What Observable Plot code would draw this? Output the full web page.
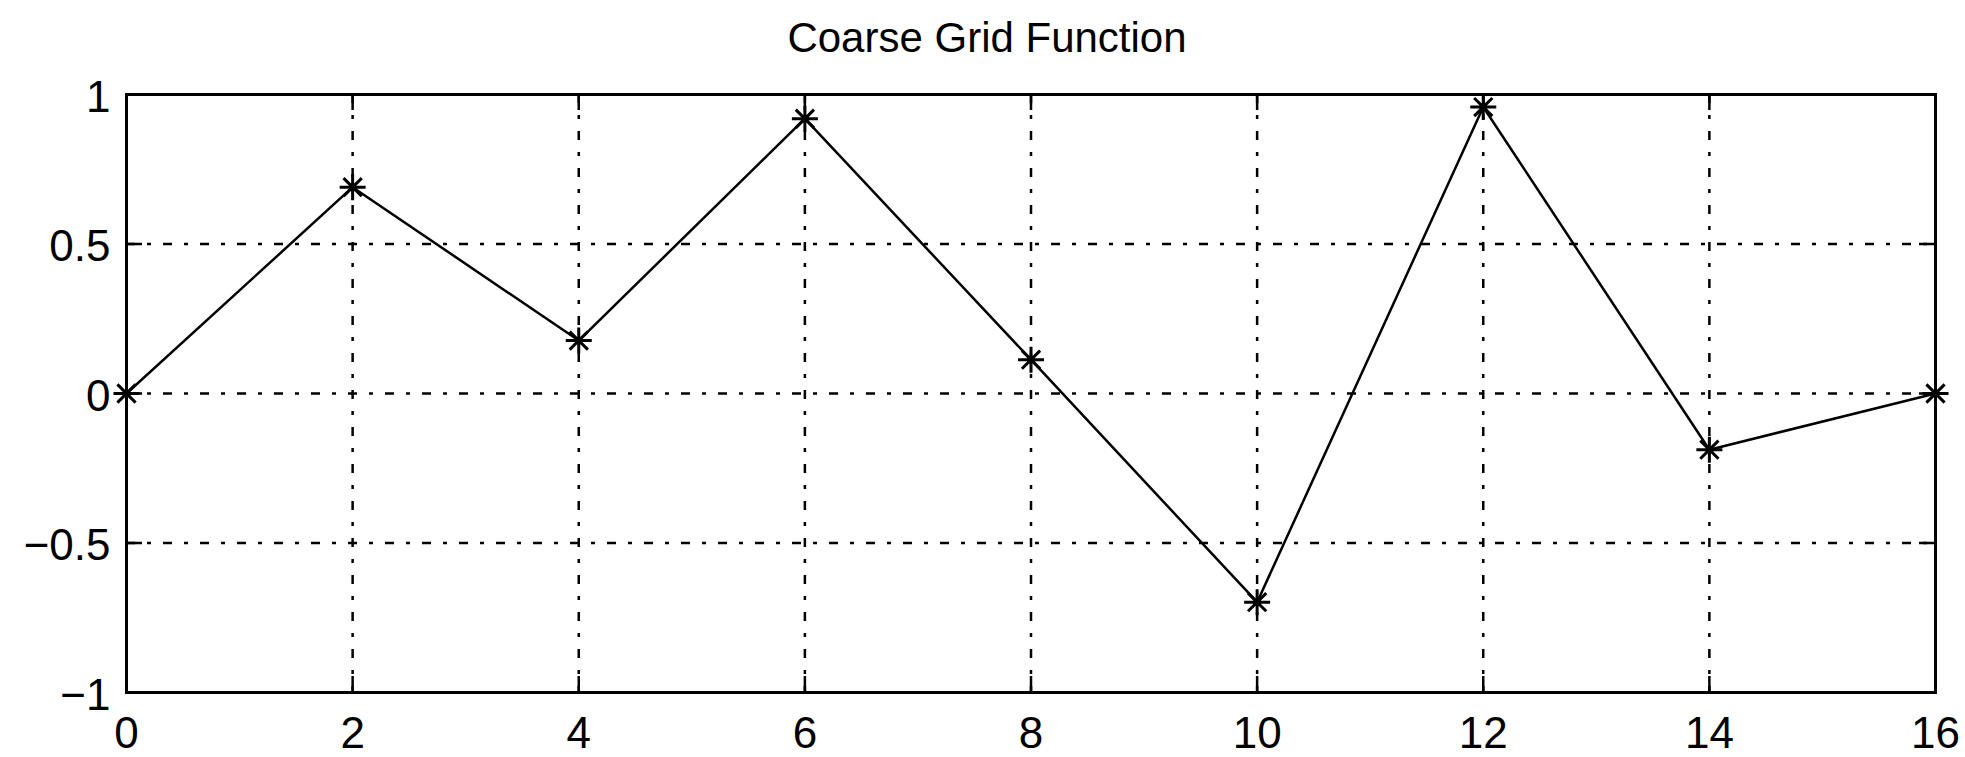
<!DOCTYPE html>
<html>
<head>
<meta charset="utf-8">
<script src="https://cdn.jsdelivr.net/npm/d3@7"></script>
<script src="https://cdn.jsdelivr.net/npm/@observablehq/plot@0.6"></script>
<style>
  html, body { margin: 0; padding: 0; background: #fff; }
  #wrap { position: relative; width: 1965px; height: 757px; font-family: "Liberation Sans", Arial, Helvetica, sans-serif; }
  #title { position: absolute; left: 987px; top: 17px; transform: translateX(-50%); font-size: 42px; line-height: 42px; color: #000; white-space: nowrap; }
  #chart { position: absolute; left: 0; top: 70px; }
</style>
</head>
<body>
<div id="wrap">
  <div id="title">Coarse Grid Function</div>
  <div id="chart"></div>
</div>
<script>
// Sample points of the coarse grid function
const xs = [0, 2, 4, 6, 8, 10, 12, 14, 16];
const ys = [0, 0.69, 0.177, 0.919, 0.113, -0.698, 0.958, -0.188, 0];

// Axis ticks and their labels
const xTicks = [0, 2, 4, 6, 8, 10, 12, 14, 16];
const xTickLabels = ["0", "2", "4", "6", "8", "10", "12", "14", "16"];
const yTicks = [-1, -0.5, 0, 0.5, 1];
const yTickLabels = ["\u22121", "\u22120.5", "0", "0.5", "1"];

const points = xs.map((x, i) => ({x, y: ys[i]}));

const W = 1965, H = 687;
const mTop = 24, mBottom = 65, mLeft = 126, mRight = 30;
const innerW = W - mLeft - mRight, innerH = H - mTop - mBottom;
const tickLen = 16;
const gridX = xTicks.slice(1, -1);
const gridY = yTicks.slice(1, -1);
const dash = "9,12,4,12";

// Eight-armed asterisk marker: a plus with a smaller x over it
const asterisk = {
  draw(ctx, size) {
    const r = Math.sqrt(size / Math.PI);
    const d = r * 0.7;
    ctx.moveTo(-r, 0); ctx.lineTo(r, 0);
    ctx.moveTo(0, -r); ctx.lineTo(0, r);
    ctx.moveTo(-d, -d); ctx.lineTo(d, d);
    ctx.moveTo(-d, d); ctx.lineTo(d, -d);
  }
};

const chart = Plot.plot({
  width: W,
  height: H,
  marginTop: mTop,
  marginBottom: mBottom,
  marginLeft: mLeft,
  marginRight: mRight,
  style: {fontFamily: '"Liberation Sans", Arial, Helvetica, sans-serif', color: "#000", background: "#fff"},
  x: {domain: [0, 16]},
  y: {domain: [-1, 1]},
  marks: [
    // dash-dot grid
    Plot.ruleX(gridX, {x: d => d, stroke: "#000", strokeWidth: 2.5, strokeDasharray: dash}),
    Plot.ruleY(gridY, {y: d => d, stroke: "#000", strokeWidth: 2.5, strokeDasharray: dash}),
    // inward tick marks on all four sides
    Plot.ruleX(xTicks, {x: d => d, stroke: "#000", strokeWidth: 2.5, insetBottom: innerH - tickLen}),
    Plot.ruleX(xTicks, {x: d => d, stroke: "#000", strokeWidth: 2.5, insetTop: innerH - tickLen}),
    Plot.ruleY(yTicks, {y: d => d, stroke: "#000", strokeWidth: 2.5, insetRight: innerW - tickLen}),
    Plot.ruleY(yTicks, {y: d => d, stroke: "#000", strokeWidth: 2.5, insetLeft: innerW - tickLen}),
    // the function
    Plot.line(points, {x: "x", y: "y", stroke: "#000", strokeWidth: 2.5}),
    Plot.dot(points, {x: "x", y: "y", symbol: asterisk, r: 13, stroke: "#000", strokeWidth: 3, fill: "none"}),
    Plot.frame({stroke: "#000", strokeWidth: 3}),
    Plot.axisX({ticks: xTicks, tickSize: 0, tickPadding: 24, fontSize: 44, tickFormat: d => xTickLabels[xTicks.indexOf(d)], label: null}),
    Plot.axisY({ticks: yTicks, tickSize: 0, tickPadding: 16, fontSize: 44, dy: 3, tickFormat: d => yTickLabels[yTicks.indexOf(d)], label: null})
  ]
});
document.getElementById("chart").appendChild(chart);
</script>
</body>
</html>
